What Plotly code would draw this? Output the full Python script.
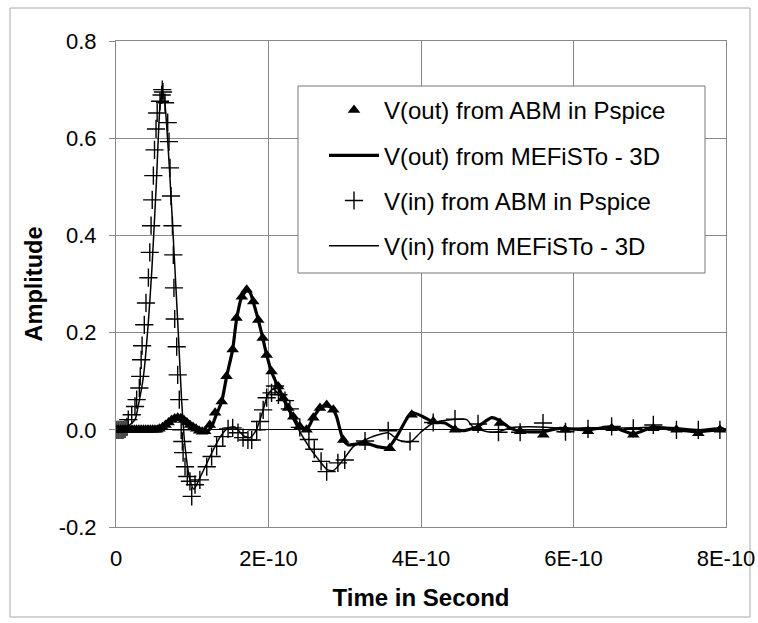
import plotly.graph_objects as go

# ---------------- data (time in picoseconds, amplitude in volts) ----------------
vin_line_t = [0, 10, 18, 25, 29, 36, 42, 47, 53, 58, 61, 64, 70, 77, 82, 86, 90.5, 97, 102, 110,
              123, 136, 147, 156, 167, 176, 184, 193, 199, 206, 212, 222, 231, 241, 254, 268, 277,
              285, 298, 311, 333, 357, 370, 386, 399, 416, 442, 460, 468, 487, 501, 517, 556, 591,
              617, 648, 678, 707, 736, 763, 795, 800]
vin_line_v = [0, 0, 0.010, 0.021, 0.048, 0.110, 0.213, 0.329, 0.51, 0.673, 0.695, 0.673, 0.54, 0.34,
              0.19, 0.062, -0.034, -0.103, -0.122, -0.099, -0.056, -0.016, 0.004, 0.006, -0.012,
              -0.016, 0.0, 0.041, 0.072, 0.084, 0.076, 0.053, 0.025, -0.004, -0.037, -0.066, -0.082,
              -0.084, -0.062, -0.035, -0.016, -0.006, -0.021, -0.025, -0.006, 0.014, 0.021, 0.021,
              0.006, -0.004, -0.004, 0.004, 0.006, 0.002, 0.004, 0.004, 0.004, 0.006, 0.004, 0.0,
              0.004, 0.0]

vin_pts_t = [1.3, 3.9, 6.6, 9.2, 11.8, 14.4, 16.1, 20.6, 24.9, 27.1, 30.6, 31.8, 33.0, 34.2, 37.1,
             39.3, 42.5, 44.3, 46.0, 47.5, 49.0, 50.5, 52.5, 54.0, 57.7, 59.9, 60.7, 61.6, 64.3,
             67.8, 69.5, 70.8, 72.1, 74.0, 75.2, 76.0, 77.0, 79.6, 80.9, 83.0, 85.5, 87.0, 88.0,
             90.5, 93.5, 97.0, 99.3, 103.6, 110, 119, 125.4, 132, 140, 147, 153, 160, 166.6, 173,
             178, 184.5, 189, 193, 197.6, 204, 208.5, 213, 221.6, 228, 241, 253, 260, 269, 276.3,
             291, 300, 326.6, 357, 385.6, 416, 444.6, 474.8, 501.6, 530, 560, 589.5, 619, 650,
             678.4, 704.7, 735, 763.7, 792]
vin_pts_v = [0.0, 0.0, 0.0, 0.0, 0.002, 0.006, 0.021, 0.031, 0.048, 0.062, 0.086, 0.110, 0.144,
             0.173, 0.216, 0.261, 0.313, 0.365, 0.420, 0.473, 0.523, 0.576, 0.619, 0.652, 0.676,
             0.689, 0.700, 0.695, 0.673, 0.632, 0.593, 0.539, 0.481, 0.420, 0.360, 0.292, 0.228,
             0.171, 0.113, 0.062, 0.0, -0.024, -0.047, -0.076, -0.096, -0.106, -0.137, -0.113,
             -0.103, -0.076, -0.055, -0.034, -0.014, 0.002, 0.004, -0.006, -0.016, -0.021, -0.021,
             0.0, 0.017, 0.041, 0.066, 0.076, 0.090, 0.072, 0.060, 0.043, 0.005, -0.020, -0.040,
             -0.065, -0.086, -0.068, -0.062, -0.023, -0.002, -0.024, 0.015, 0.022, 0.012, -0.005,
             -0.005, 0.014, -0.004, 0.002, 0.007, 0.003, 0.010, 0.0, 0.0, 0.0]

vout_line_t = [0, 45, 58, 68, 77, 84, 90.5, 100, 107.5, 114, 120.7, 126, 131, 138.6, 145, 153, 158,
               165, 171.4, 176, 180, 186.6, 192.4, 197.6, 204, 212.8, 219.4, 226, 232.5, 241, 250,
               258.8, 267.5, 276.3, 285, 289.3, 298, 304.7, 326.6, 343.6, 356.7, 368, 383, 389.5,
               402.6, 415.7, 431.5, 442, 455, 473.5, 492.7, 501, 516.7, 530, 558, 582, 619, 650,
               678, 704, 736, 762, 792, 800]
vout_line_v = [0, 0, 0.002, 0.012, 0.023, 0.025, 0.02, 0.01, 0, -0.004, -0.002, 0.008, 0.029, 0.058,
               0.109, 0.165, 0.226, 0.274, 0.286, 0.282, 0.263, 0.226, 0.189, 0.154, 0.119, 0.088,
               0.066, 0.045, 0.027, 0.006, 0.0, 0.025, 0.045, 0.051, 0.041, 0.027, -0.021, -0.031,
               -0.027, -0.035, -0.037, -0.014, 0.027, 0.035, 0.027, 0.016, 0.014, 0.004, -0.002,
               0.006, 0.025, 0.021, 0.004, -0.003, -0.004, 0.003, 0.0, 0.006, -0.008, 0.005, 0.0,
               -0.004, 0.0, 0.0]

vout_pts_t = [0, 3, 6, 9, 12, 15, 18, 21, 24, 27, 30, 33, 36, 39, 42, 45, 48, 51, 54, 57, 61, 65,
              69, 73, 77, 81, 85, 89, 93, 97, 101, 105, 109, 113, 117, 123, 130, 138.6, 145, 153,
              158, 165, 171.4, 180, 186.6, 192.4, 197.6, 204, 212.8, 219.4, 226, 232.5, 241, 250,
              258.8, 267.5, 276.3, 285, 298, 326.6, 359, 387.8, 416, 444.6, 474.8, 503.6, 530,
              560.4, 589, 619, 650, 678.4, 704.7, 735, 763.7, 792]
vout_pts_v = [0, 0, 0, 0, 0, 0, 0, 0, 0, 0, 0, 0, 0, 0, 0, 0, 0, 0, 0, 0.002, 0.005, 0.01, 0.015,
              0.02, 0.023, 0.025, 0.024, 0.02, 0.015, 0.01, 0.006, 0.002, -0.002, -0.004, -0.003,
              0.01, 0.035, 0.058, 0.11, 0.165, 0.23, 0.274, 0.288, 0.264, 0.226, 0.189, 0.154, 0.12,
              0.089, 0.065, 0.045, 0.027, 0.007, 0.0, 0.025, 0.045, 0.051, 0.041, -0.021, -0.027,
              -0.038, 0.031, 0.017, 0.0, 0.003, 0.014, -0.003, -0.01, 0.0, -0.003, 0.003, -0.01,
              0.003, 0.0, -0.007, 0.0]

x_tick_vals = [0, 2e-10, 4e-10, 6e-10, 8e-10]
x_tick_text = ["0", "2E-10", "4E-10", "6E-10", "8E-10"]
y_tick_vals = [-0.2, 0.0, 0.2, 0.4, 0.6, 0.8]
y_tick_text = ["-0.2", "0.0", "0.2", "0.4", "0.6", "0.8"]

names = ["V(out) from ABM in Pspice", "V(out) from MEFiSTo - 3D",
         "V(in) from ABM in Pspice", "V(in) from MEFiSTo - 3D"]

ps = lambda arr: [t * 1e-12 for t in arr]

FONT = "Liberation Sans, Arial, sans-serif"

fig = go.Figure()
fig.add_trace(go.Scatter(x=ps(vout_pts_t), y=vout_pts_v, mode="markers", name=names[0],
                         legendgroup="a",
                         marker=dict(symbol="triangle-up", size=11, color="black")))
fig.add_trace(go.Scatter(x=ps(vout_line_t), y=vout_line_v, mode="lines", name=names[1],
                         legendgroup="b", line=dict(color="black", width=3.2, shape="spline",
                                                    smoothing=0.6)))
fig.add_trace(go.Scatter(x=ps(vin_pts_t), y=vin_pts_v, mode="markers", name=names[2],
                         legendgroup="c",
                         marker=dict(symbol="cross-thin", size=13, color="black",
                                     line=dict(color="black", width=1.4))))
fig.add_trace(go.Scatter(x=ps(vin_line_t), y=vin_line_v, mode="lines", name=names[3],
                         legendgroup="d", line=dict(color="black", width=1.5, shape="spline",
                                                    smoothing=0.6)))

L, R, T, B = 116, 32, 41, 96
W, H = 758, 623
pw, ph = W - L - R, H - T - B
px = lambda x: (x - L) / pw
py = lambda y: (H - B - y) / ph

fig.update_layout(
    width=W, height=H,
    margin=dict(l=L, r=R, t=T, b=B, autoexpand=False),
    paper_bgcolor="white", plot_bgcolor="white",
    font=dict(family=FONT, size=22, color="black"),
    showlegend=True,
    legend=dict(x=px(324), y=py(88), xanchor="left", yanchor="top",
                bgcolor="rgba(0,0,0,0)", borderwidth=0, tracegroupgap=11,
                itemwidth=50, font=dict(family=FONT, size=24, color="black")),
    shapes=[
        dict(type="rect", xref="paper", yref="paper", x0=px(298), x1=px(705),
             y0=py(273), y1=py(86), fillcolor="white", line=dict(color="#777", width=1),
             layer="above"),
        dict(type="rect", xref="paper", yref="paper", x0=px(10), x1=px(750),
             y0=py(617), y1=py(8), fillcolor="rgba(0,0,0,0)",
             line=dict(color="#aaa", width=1), layer="below"),
    ],
)

fig.update_xaxes(range=[0, 8e-10], tickvals=x_tick_vals, ticktext=x_tick_text,
                 automargin=False,
                 showgrid=True, gridcolor="#888", gridwidth=1,
                 showline=True, linecolor="#888", linewidth=1, mirror=True,
                 zeroline=False, ticks="", ticklabelstandoff=12,
                 tickfont=dict(family=FONT, size=22, color="black"),
                 title=dict(text="<b>Time in Second</b>", standoff=18,
                            font=dict(family=FONT, size=24, color="black")))
fig.update_yaxes(range=[-0.2, 0.8], tickvals=y_tick_vals, ticktext=y_tick_text,
                 automargin=False,
                 showgrid=True, gridcolor="#888", gridwidth=1,
                 showline=True, linecolor="#888", linewidth=1, mirror=True,
                 zeroline=True, zerolinecolor="black", zerolinewidth=1,
                 ticks="outside", ticklen=6, tickcolor="#888", ticklabelstandoff=8,
                 tickfont=dict(family=FONT, size=22, color="black"),
                 title=dict(text="<b>Amplitude</b>", standoff=9,
                            font=dict(family=FONT, size=23.5, color="black")))

fig.write_html("out.html")
